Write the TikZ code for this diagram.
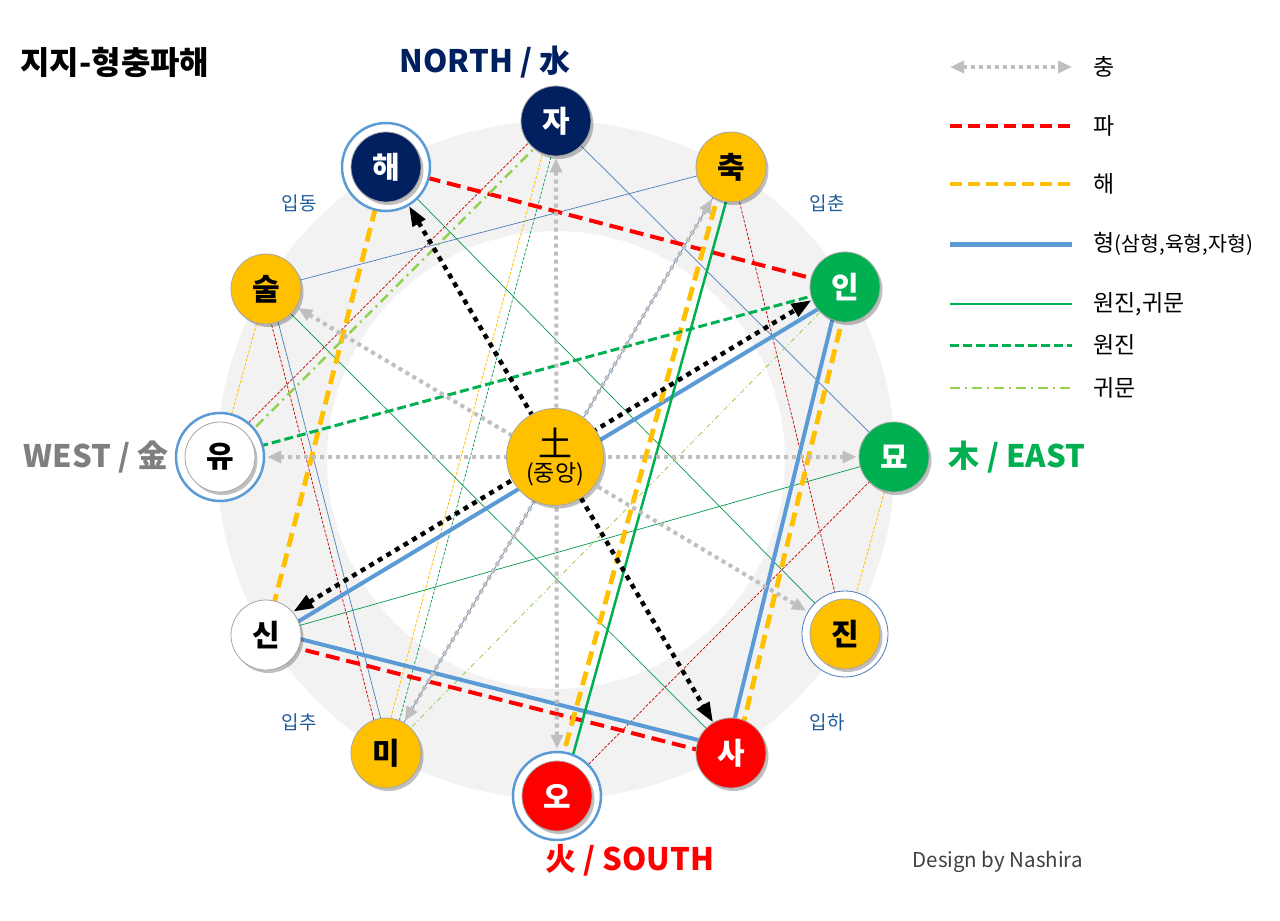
\documentclass[tikz,border=0pt]{standalone}
\usepackage{fontspec}
\setmainfont{Noto Sans CJK KR}
\usetikzlibrary{arrows.meta,shadows,calc}
\definecolor{navy}{HTML}{002060}
\definecolor{gold}{HTML}{FFC000}
\definecolor{grn}{HTML}{00B050}
\definecolor{tgrn}{HTML}{00994A}
\definecolor{lgrn}{HTML}{92D050}
\definecolor{rd}{HTML}{FF0000}
\definecolor{drd}{HTML}{C00000}
\definecolor{hblue}{HTML}{5B9BD5}
\definecolor{tblue}{HTML}{4A7EBB}
\definecolor{cgrey}{HTML}{BFBFBF}
\definecolor{ringgrey}{HTML}{F2F2F2}
\definecolor{ipblue}{HTML}{1F5C99}
\definecolor{wgrey}{HTML}{7F7F7F}
\definecolor{dgrey}{HTML}{404040}
\pgfdeclarelayer{back}
\pgfdeclarelayer{bg}
\pgfsetlayers{back,bg,main}
\tikzset{
  shd/.style={drop shadow={shadow xshift=2.5pt,shadow yshift=-3pt,opacity=0.25,fill=black}},
  br/.style 2 args={circle,minimum size=70pt,inner sep=0pt,fill=#1,draw=black!35,line width=0.8pt,text=#2,font=\bfseries\fontsize{30}{30}\selectfont,shd},
  rng/.style={circle,minimum size=88pt,inner sep=0pt,fill=white,draw=hblue,line width=2.5pt},
  rngthin/.style={circle,minimum size=86pt,inner sep=0pt,fill=white,draw=tblue,line width=0.8pt},
  dirlab/.style={font=\bfseries\fontsize{31}{31}\selectfont},
  iplab/.style={font=\fontsize{19}{19}\selectfont,text=ipblue},
  leglab/.style={anchor=west,font=\fontsize{23}{23}\selectfont,text=black},
  pa/.style={draw=rd,line width=4pt,dash pattern=on 14pt off 7pt},
  haeline/.style={draw=gold,line width=4.8pt,dash pattern=on 14pt off 7pt},
  hy/.style={draw=hblue,line width=4pt},
  wg/.style={draw=grn,line width=2.5pt},
  wj/.style={draw=grn,line width=3pt,dash pattern=on 9pt off 4pt},
  gm/.style={draw=lgrn,line width=2.5pt,dash pattern=on 10pt off 5pt on 2pt off 5pt},
  tpa/.style={draw=drd,line width=0.7pt,dash pattern=on 3pt off 1.5pt},
  thae/.style={draw=gold,line width=0.8pt,dash pattern=on 3pt off 1.5pt},
  thy/.style={draw=tblue,line width=0.7pt},
  twg/.style={draw=tgrn,line width=0.7pt},
  twj/.style={draw=tgrn,line width=0.7pt,dash pattern=on 3pt off 1.5pt},
  tgm/.style={draw=lgrn,line width=0.8pt,dash pattern=on 5pt off 3pt on 1pt off 3pt},
  chung/.style={draw=cgrey,line width=4pt,dash pattern=on 4pt off 4pt,{Triangle[length=14pt,width=12pt]}-{Triangle[length=14pt,width=12pt]},shorten <=2pt,shorten >=2pt},
  bch/.style={draw=black,line width=4.5pt,dash pattern=on 5pt off 5pt,{Triangle[length=20pt,width=14pt]}-{Triangle[length=20pt,width=14pt]}},
}
\begin{document}
\begin{tikzpicture}[x=1pt,y=-1pt]
\begin{pgfonlayer}{back}
\fill[white] (0,0) rectangle (1280,921);
\end{pgfonlayer}
\useasboundingbox (0,0) rectangle (1280,921);

% ---------- nodes ----------
\node[rng] (nhae) at (386,167) {};
\node[br={navy}{white}] (nhaec) at (386,167) {해};
\node[br={navy}{white}] (nja) at (556,121) {자};
\node[br={gold}{black}] (nchuk) at (731,167) {축};
\node[br={grn}{white}] (nin) at (845,287) {인};
\node[br={grn}{white}] (nmyo) at (894,457) {묘};
\node[rngthin] (njin) at (845,634) {};
\node[br={gold}{black}] (njinc) at (845,634) {진};
\node[br={rd}{white}] (nsa) at (731,753) {사};
\node[rng] (no) at (557,796) {};
\node[br={rd}{white}] (noc) at (557,796) {오};
\node[br={gold}{black}] (nmi) at (386,753) {미};
\node[br={white}{black}] (nsin) at (266,635) {신};
\node[rng] (nyu) at (220,457) {};
\node[br={white}{black}] (nyuc) at (220,457) {유};
\node[br={gold}{black}] (nsul) at (266,289) {술};
\node[circle,minimum size=97pt,inner sep=0pt,fill=gold,draw=black!35,line width=0.8pt,align=center,shd] (nto) at (555,457)
  {\fontsize{34}{34}\selectfont 土\\[4pt]\fontsize{23}{23}\selectfont (중앙)};

% ---------- texts ----------
\node[anchor=west,font=\bfseries\fontsize{32}{32}\selectfont] (title) at (17,62) {지지-형충파해};
\node[dirlab,text=navy] (north) at (485,62) {NORTH / 水};
\node[dirlab,text=wgrey] (west) at (96,457) {WEST / 金};
\node[dirlab,text=grn] (east) at (1017,457) {木 / EAST};
\node[dirlab,text=rd] (south) at (630,860) {火 / SOUTH};
\node[iplab] (ipdong) at (299,203) {입동};
\node[iplab] (ipchun) at (827,203) {입춘};
\node[iplab] (ipchu) at (299,722) {입추};
\node[iplab] (ipha) at (827,722) {입하};
\node[anchor=west,font=\fontsize{20.5}{20.5}\selectfont,text=dgrey] (design) at (909,862) {Design by Nashira};

% ---------- legend ----------
\coordinate (l1a) at (950,67);  \coordinate (l1b) at (1072,67);
\coordinate (l2a) at (950,126); \coordinate (l2b) at (1072,126);
\coordinate (l3a) at (950,184); \coordinate (l3b) at (1072,184);
\coordinate (l4a) at (950,244); \coordinate (l4b) at (1072,244);
\coordinate (l5a) at (950,304); \coordinate (l5b) at (1072,304);
\coordinate (l6a) at (950,345); \coordinate (l6b) at (1072,345);
\coordinate (l7a) at (950,388); \coordinate (l7b) at (1072,388);
\draw[chung,shorten <=0pt,shorten >=0pt] (l1a) -- (l1b);
\draw[pa,dash pattern=on 12pt off 6pt] (l2a) -- (l2b);
\draw[haeline,dash pattern=on 12pt off 6pt] (l3a) -- (l3b);
\draw[hy,line width=5pt] (l4a) -- (l4b);
\draw[wg] (l5a) -- (l5b);
\draw[wj] (l6a) -- (l6b);
\draw[gm] (l7a) -- (l7b);
\node[leglab] (t1) at (1090,67) {충};
\node[leglab] (t2) at (1090,126) {파};
\node[leglab] (t3) at (1090,184) {해};
\node[leglab] (t4) at (1090,244) {형{\fontsize{20.5}{20.5}\selectfont (삼형,육형,자형)}};
\node[leglab] (t5) at (1090,304) {원진,귀문};
\node[leglab] (t6) at (1090,345) {원진};
\node[leglab] (t7) at (1090,388) {귀문};

% ---------- background: ring and connectors ----------
\begin{pgfonlayer}{bg}
\fill[ringgrey,even odd rule] (556,460) circle[radius=339] (556,460) circle[radius=229];

% thin lines
\draw[tpa,transform canvas={shift={(-2.8,-2.8)}}] (nja.center) -- (nyu.center);
\draw[tpa] (no.center) -- (nmyo.center);
\draw[tpa] (nchuk.center) -- (njin.center);
\draw[tpa,transform canvas={shift={(-3.4,0.9)}}] (nsul.center) -- (nmi.center);
\draw[thae,transform canvas={shift={(-4.3,-1.2)}}] (nja.center) -- (nmi.center);
\draw[thae] (nyu.center) -- (nsul.center);
\draw[thae] (nmyo.center) -- (njin.center);
\draw[thy] (nchuk.center) -- (nsul.center);
\draw[thy,transform canvas={shift={(3.4,-0.9)}}] (nsul.center) -- (nmi.center);
\draw[thy] (nmi.center) -- (nchuk.center);
\draw[thy] (nja.center) -- (nmyo.center);
\draw[twg] (nmyo.center) -- (nsin.center);
\draw[twg] (njin.center) -- (nhae.center);
\draw[twg] (nsa.center) -- (nsul.center);
\draw[twj,transform canvas={shift={(4.3,1.2)}}] (nja.center) -- (nmi.center);
\draw[tgm] (nin.center) -- (nmi.center);

% thick lines
\draw[hy,transform canvas={shift={(2.6,4.3)}}] (nin.center) -- (nsin.center);
\draw[hy,transform canvas={shift={(1.1,-4.4)}}] (nsin.center) -- (nsa.center);
\draw[hy,transform canvas={shift={(-4.4,-1.1)}}] (nsa.center) -- (nin.center);
\draw[pa] (nhae.center) -- (nin.center);
\draw[pa,transform canvas={shift={(-1.2,4.9)}}] (nsin.center) -- (nsa.center);
\draw[haeline] (nhae.center) -- (nsin.center);
\draw[haeline,transform canvas={shift={(-4.8,-1.3)}}] (nchuk.center) -- (no.center);
\draw[haeline,transform canvas={shift={(4.9,1.2)}}] (nin.center) -- (nsa.center);
\draw[wg,transform canvas={shift={(4.3,1.2)}}] (nchuk.center) -- (no.center);
\draw[wj] (nin.center) -- (nyu.center);
\draw[gm,transform canvas={shift={(2.8,2.8)}}] (nja.center) -- (nyu.center);

% chung arrows
\draw[chung] (nja) -- (no);
\draw[chung] (nyu) -- (nmyo);
\draw[chung] (nsul) -- (njin);
\draw[chung] (nchuk) -- (nmi);
\draw[bch] (nhae) -- (nsa);
\draw[bch,transform canvas={shift={(-3.1,-5.1)}}] (nsin) -- (nin);
\end{pgfonlayer}
\end{tikzpicture}
\end{document}
